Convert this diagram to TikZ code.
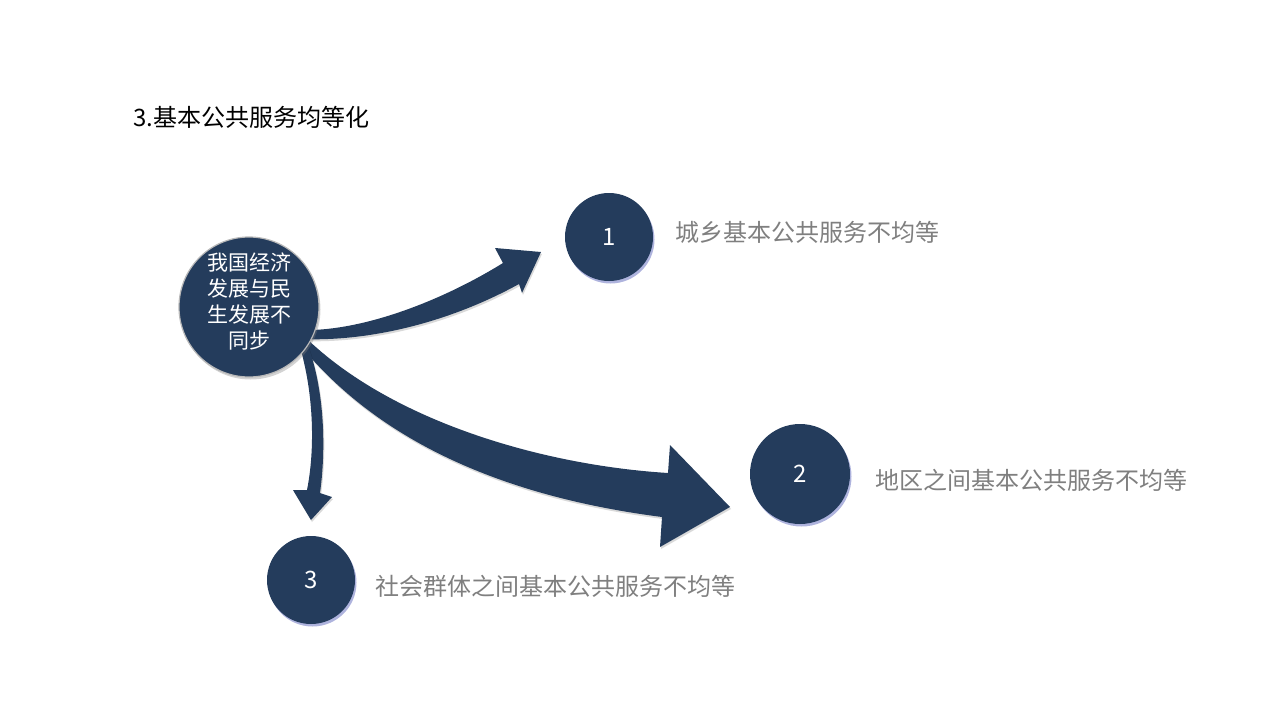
\documentclass[tikz,border=0pt]{standalone}
\usepackage{fontspec}
\setmainfont{Noto Sans CJK SC}
\usepackage{tikz}
\usetikzlibrary{positioning, shadows}
\definecolor{navy}{HTML}{243C5C}
\definecolor{labelgray}{HTML}{7F7F7F}

\begin{document}
\begin{tikzpicture}[
    x=1pt, y=-1pt,
    dot/.style={circle, fill=navy, text=white, inner sep=0pt, font=\fontsize{24}{28}\selectfont,
        drop shadow={shadow xshift=1.5pt, shadow yshift=-2.5pt, opacity=.35, fill=navy!60!blue}},
    hubdot/.style={circle, fill=navy, draw=gray!55, line width=1.2pt, inner sep=0pt, minimum size=140pt,
        drop shadow={shadow xshift=1.5pt, shadow yshift=-2.5pt, opacity=.35}},
    note/.style={anchor=west, inner sep=0pt, text=labelgray, font=\fontsize{24}{29}\selectfont},
    flow/.style={fill=navy, preaction={fill=black, fill opacity=.15, transform canvas={xshift=1pt, yshift=-2pt}}}
]
    \useasboundingbox (0,0) rectangle (1280,720);

    % 标题
    \node[anchor=west, inner sep=0pt, font=\fontsize{24}{29}\selectfont] (title) at (133,117) {3.基本公共服务均等化};

    % 箭头
    \path[flow] (300,330) .. controls (360,332) and (440,302) .. (503,263) -- (495,248) -- (541,252)
        -- (522,293) -- (519,284) .. controls (450,322) and (370,342) .. (300,339) -- cycle;
    \path[flow] (305,337) .. controls (390,420) and (540,465) .. (668,473) -- (670,445) -- (730,507)
        -- (660,547) -- (662,517) .. controls (530,500) and (390,455) .. (300,345) -- cycle;
    \path[flow] (307,343) .. controls (325,390) and (326,450) .. (320,493) -- (332,497) -- (311,520)
        -- (293,490) -- (307,490) .. controls (315,450) and (314,395) .. (300,347) -- cycle;

    % 中心
    \node[hubdot] (hub) at (249,307) {};
    \node[align=center, text=white, inner sep=0pt, font=\fontsize{21}{26}\selectfont] (hubtext) at (249,302)
        {我国经济\\发展与民\\生发展不\\同步};

    % 三个方面
    \node[dot, minimum size=88pt] (one) at (609,237) {1};
    \node[dot, minimum size=100pt] (two) at (800,474) {2};
    \node[dot, minimum size=88pt] (three) at (311,580) {3};

    \node[note, right=22pt of one, yshift=5pt] (onetext) {城乡基本公共服务不均等};
    \node[note, right=25pt of two, yshift=-6pt] (twotext) {地区之间基本公共服务不均等};
    \node[note, right=20pt of three, yshift=-6pt] (threetext) {社会群体之间基本公共服务不均等};
\end{tikzpicture}
\end{document}
